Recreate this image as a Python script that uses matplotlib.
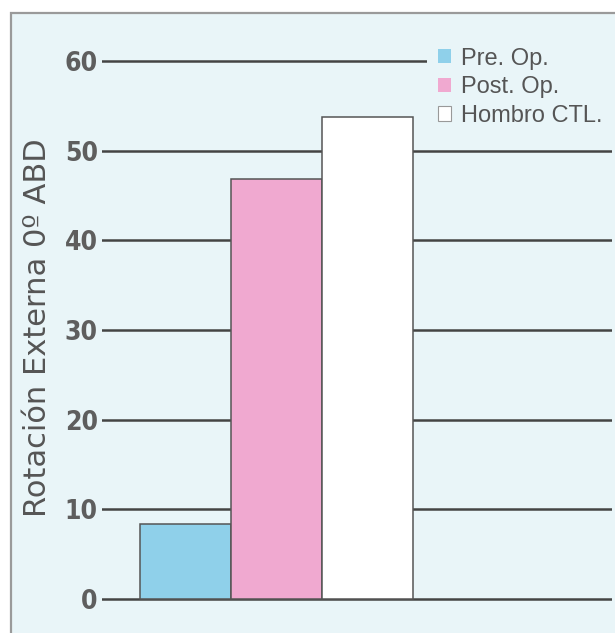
import matplotlib
matplotlib.use("Agg")
import matplotlib.pyplot as plt
from matplotlib.patches import Rectangle, Patch

categories = ["Pre. Op.", "Post. Op.", "Hombro CTL."]
values = [8.4, 46.8, 53.7]
yticks = [0, 10, 20, 30, 40, 50, 60]
ylabel = "Rotación Externa 0º ABD"

colors = ["#8fd0ea", "#f0a9d0", "#ffffff"]
bg = "#e9f5f8"
edge = "#555555"
txt = "#555555"

W, H = 615, 633
fig = plt.figure(figsize=(W / 100, H / 100), dpi=100)
fig.patch.set_facecolor("white")

# scanned frame
frame = Rectangle((10.5 / W, -0.01), 1.0, (H - 12.5) / H + 0.01, transform=fig.transFigure,
                  facecolor=bg, edgecolor="#9a9a9a", linewidth=1.6, zorder=-1)
fig.patches.append(frame)

# axes: 0 at pixel 599, 60 at pixel 61
ppu = (599 - 61) / 60.0
m = 10
ymin = -m / ppu
ymax = 60 + m / ppu
ax_left, ax_right = 102, 612
ax = fig.add_axes([ax_left / W, (H - 599 - m) / H, (ax_right - ax_left) / W, (538 + 2 * m) / H])
ax.set_facecolor("none")
ax.set_zorder(1)
for s in ax.spines.values():
    s.set_visible(False)

bw = 91.0  # px per category unit
xmin = -0.5 - (139.5 - ax_left) / bw
xmax = xmin + (ax_right - ax_left) / bw
ax.set_xlim(xmin, xmax)
ax.set_ylim(ymin, ymax)

for yv in yticks:
    ax.axhline(yv, color="#444444", linewidth=1.8, zorder=1)

xs = list(range(len(categories)))
ax.bar(xs, values, width=1.0, color=colors, edgecolor=edge, linewidth=1.1, zorder=2)

ax.set_xticks([])
ax.set_yticks(yticks)
ax.set_yticklabels([str(v) for v in yticks])
ax.tick_params(axis="y", length=0, pad=3)
for lab in ax.get_yticklabels():
    lab.set_family(["DejaVu Sans"])
    lab.set_fontstretch("condensed")
    lab.set_fontsize(19)
    lab.set_fontweight("bold")
    lab.set_color("#5e5e5e")

fig.text(38 / W, 1 - 328 / H, ylabel, rotation=90, ha="center", va="center",
         fontsize=22, color=txt, family=["DejaVu Sans"])

handles = [Patch(facecolor=colors[0], edgecolor="none"),
           Patch(facecolor=colors[1], edgecolor="none"),
           Patch(facecolor=colors[2], edgecolor="#999999", linewidth=0.8)]
leg = fig.legend(handles, categories, loc="upper left",
                 bbox_to_anchor=(427 / W, 1 - 37 / H),
                 prop={"family": ["Liberation Sans", "DejaVu Sans"], "size": 17},
                 frameon=True, fancybox=False, framealpha=1.0,
                 facecolor=bg, edgecolor="none",
                 handlelength=0.55, handleheight=0.55, handletextpad=0.45,
                 labelspacing=0.28, borderpad=0.45, borderaxespad=0)
for t in leg.get_texts():
    t.set_color(txt)
leg.set_zorder(5)

fig.savefig("out.png", dpi=100, facecolor=fig.get_facecolor())
